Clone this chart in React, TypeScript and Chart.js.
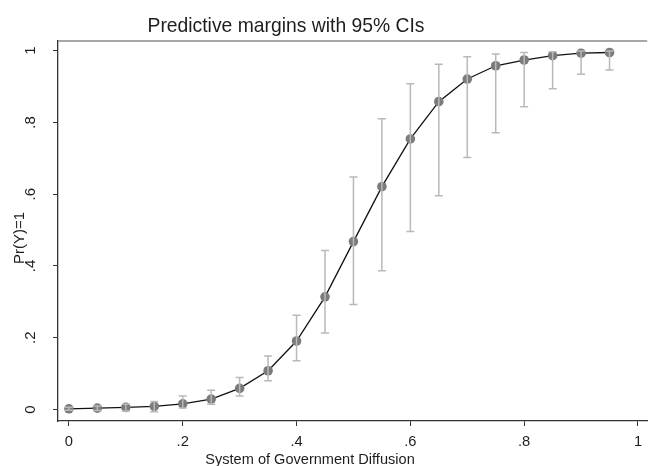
import React, { useEffect, useRef } from "react";
import { Chart, registerables } from "chart.js";

Chart.register(...registerables);

const X_VALUES = [0, 0.05, 0.1, 0.15, 0.2, 0.25, 0.3, 0.35, 0.4, 0.45, 0.5, 0.55, 0.6, 0.65, 0.7, 0.75, 0.8, 0.85, 0.9, 0.95];
const MARGINS = [0.002, 0.004, 0.006, 0.009, 0.016, 0.029, 0.059, 0.108, 0.191, 0.314, 0.468, 0.621, 0.754, 0.858, 0.921, 0.958, 0.974, 0.986, 0.993, 0.995];
const CI_LOWER = [-0.002, -0.003, -0.004, -0.006, 0.004, 0.015, 0.038, 0.08, 0.136, 0.213, 0.293, 0.387, 0.496, 0.596, 0.702, 0.771, 0.844, 0.894, 0.934, 0.946];
const CI_UPPER = [0.006, 0.01, 0.015, 0.022, 0.038, 0.054, 0.089, 0.149, 0.263, 0.443, 0.648, 0.81, 0.908, 0.962, 0.983, 0.991, 0.995, 0.997, 0.999, 0.999];

const X_TICKS = [0, 0.2, 0.4, 0.6, 0.8, 1];
const X_TICK_LABELS = ["0", ".2", ".4", ".6", ".8", "1"];
const Y_TICKS = [0, 0.2, 0.4, 0.6, 0.8, 1];
const Y_TICK_LABELS = ["0", ".2", ".4", ".6", ".8", "1"];

const TITLE = "Predictive margins with 95% CIs";
const X_TITLE = "System of Government Diffusion";
const Y_TITLE = "Pr(Y)=1";

const FONT = "'Liberation Sans', Arial, Helvetica, sans-serif";

function drawCondensed(ctx: any, text: string, x: number, y: number, size: number, sx: number) {
  ctx.save();
  ctx.translate(x, y);
  ctx.scale(sx, 1);
  ctx.font = `${size}px ${FONT}`;
  ctx.textAlign = "center";
  ctx.textBaseline = "alphabetic";
  ctx.fillText(text, 0, 0);
  ctx.restore();
}

const errorBarsPlugin = {
  id: "errorBars",
  afterDatasetsDraw(chart: any) {
    const ctx = chart.ctx;
    const xs = chart.scales.x;
    const ys = chart.scales.y;
    ctx.save();
    ctx.strokeStyle = "#b9b9b9";
    ctx.lineWidth = 1.5;
    const cap = 4;
    for (let i = 0; i < X_VALUES.length; i++) {
      const px = xs.getPixelForValue(X_VALUES[i]);
      const lo = ys.getPixelForValue(CI_LOWER[i]);
      const hi = ys.getPixelForValue(CI_UPPER[i]);
      ctx.beginPath();
      ctx.moveTo(px, lo);
      ctx.lineTo(px, hi);
      ctx.moveTo(px - cap, lo);
      ctx.lineTo(px + cap, lo);
      ctx.moveTo(px - cap, hi);
      ctx.lineTo(px + cap, hi);
      ctx.stroke();
    }
    ctx.restore();
  },
};

const textPlugin = {
  id: "textLabels",
  afterDraw(chart: any) {
    const ctx = chart.ctx;
    const xs = chart.scales.x;
    const ys = chart.scales.y;
    const area = chart.chartArea;
    ctx.save();
    // top border
    ctx.strokeStyle = "#8a8a8a";
    ctx.lineWidth = 1.5;
    ctx.beginPath();
    ctx.moveTo(area.left, area.top);
    ctx.lineTo(area.right, area.top);
    ctx.stroke();

    ctx.fillStyle = "#1e1e1e";
    // title
    drawCondensed(ctx, TITLE, 286, 31.5, 21, 0.92);

    // x tick labels
    X_TICKS.forEach((v, i) => {
      drawCondensed(ctx, X_TICK_LABELS[i], xs.getPixelForValue(v), 446, 15.5, 0.95);
    });
    // x title
    drawCondensed(ctx, X_TITLE, 310, 463.5, 15.5, 0.94);

    // y tick labels (rotated)
    ctx.font = `15px ${FONT}`;
    Y_TICKS.forEach((v, i) => {
      ctx.save();
      ctx.translate(31, ys.getPixelForValue(v));
      ctx.rotate(-Math.PI / 2);
      ctx.textAlign = "center";
      ctx.textBaseline = "middle";
      ctx.fillText(Y_TICK_LABELS[i], 0, 0);
      ctx.restore();
    });
    // y title
    ctx.save();
    ctx.translate(20, 238);
    ctx.rotate(-Math.PI / 2);
    ctx.textAlign = "center";
    ctx.textBaseline = "middle";
    ctx.font = `15px ${FONT}`;
    ctx.fillText(Y_TITLE, 0, 0);
    ctx.restore();

    ctx.restore();
  },
};

export default function App() {
  const canvasRef = useRef<HTMLCanvasElement | null>(null);

  useEffect(() => {
    const canvas = canvasRef.current;
    if (!canvas) return;
    const chart = new Chart(canvas, {
      type: "line",
      data: {
        datasets: [
          {
            data: X_VALUES.map((x, i) => ({ x, y: MARGINS[i] })),
            borderColor: "#111111",
            borderWidth: 1.3,
            pointRadius: 4.8,
            pointHoverRadius: 4.8,
            pointBackgroundColor: "#7b7b7b",
            pointBorderWidth: 0,
            tension: 0,
            fill: false,
          },
        ],
      },
      options: {
        responsive: false,
        animation: false,
        devicePixelRatio: 1,
        events: [],
        layout: { padding: { top: 41, right: 0, left: 0, bottom: 0 } },
        plugins: {
          legend: { display: false },
          title: { display: false },
          tooltip: { enabled: false },
        },
        scales: {
          x: {
            type: "linear",
            min: -0.0192,
            max: 1.0162,
            afterBuildTicks: (s: any) => {
              s.ticks = X_TICKS.map((v) => ({ value: v }));
            },
            afterFit: (s: any) => {
              s.height = 45;
            },
            ticks: { display: false },
            grid: { drawOnChartArea: false, drawTicks: true, tickLength: 5, color: "#333333", lineWidth: 1 },
            border: { display: true, color: "#333333", width: 1.3 },
          },
          y: {
            type: "linear",
            min: -0.032,
            max: 1.027,
            afterBuildTicks: (s: any) => {
              s.ticks = Y_TICKS.map((v) => ({ value: v }));
            },
            afterFit: (s: any) => {
              s.width = 58;
            },
            ticks: { display: false },
            grid: { drawOnChartArea: false, drawTicks: true, tickLength: 5, color: "#333333", lineWidth: 1 },
            border: { display: true, color: "#333333", width: 1.3 },
          },
        },
      },
      plugins: [errorBarsPlugin, textPlugin],
    } as any);
    return () => chart.destroy();
  }, []);

  return (
    <div style={{ position: "fixed", left: 0, top: 0, width: 652, height: 466, background: "#ffffff", overflow: "hidden" }}>
      <canvas ref={canvasRef} width={652} height={466} style={{ display: "block" }} />
    </div>
  );
}
